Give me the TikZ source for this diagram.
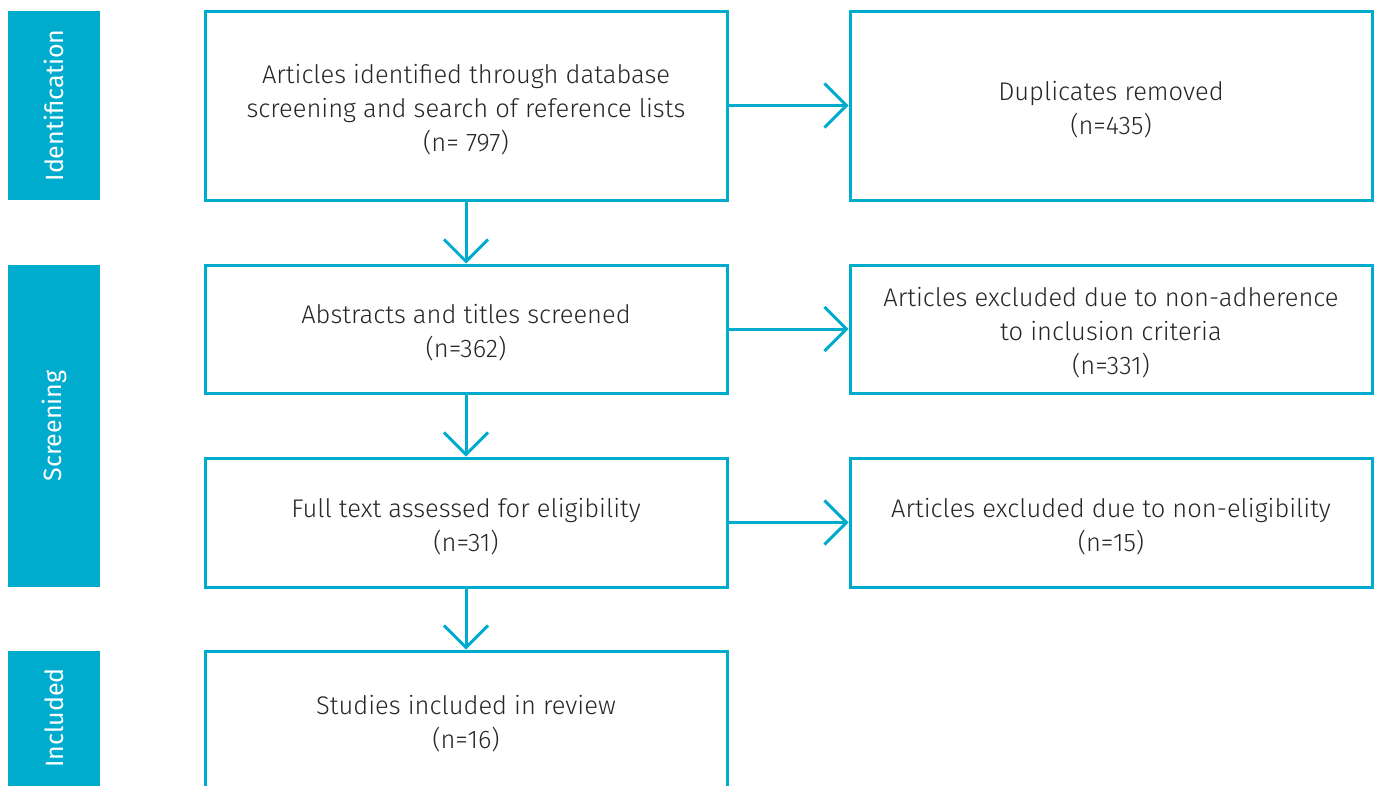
\documentclass[tikz,border=0pt]{standalone}
\usepackage{fontspec}
\setmainfont{Fira Sans}[UprightFont=* Light]
\newfontfamily\bandfont{Fira Sans}
\usetikzlibrary{arrows.meta}
\definecolor{prcyan}{RGB}{0,172,206}
\tikzset{
  box/.style={draw=prcyan, line width=3pt, minimum width=522pt, inner sep=0pt},
  txt/.style={align=center, inner sep=0pt, font=\fontsize{25.5}{34}\selectfont, text=black!85},
  band/.style={fill=prcyan, draw=none, minimum width=92pt, inner sep=0pt},
  bandtext/.style={text=white, font=\bandfont\fontsize{25}{28}\selectfont, rotate=90},
  flow/.style={draw=prcyan, line width=3pt, -{Straight Barb[length=22pt,width=44pt,line width=3pt]}}
}
\begin{document}
\begin{tikzpicture}[x=1pt,y=-1pt]
\useasboundingbox (0,0) rectangle (1375,785);
% stage bands
\node[band, minimum height=189pt] (bid) at (54,105.5) {};
\node[bandtext] (tid) at (bid.center) {Identification};
\node[band, minimum height=322pt] (bsc) at (54,426) {};
\node[bandtext] (tsc) at (bsc.center) {Screening};
\node[band, minimum height=150pt] (bin) at (54,726) {};
\node[bandtext] (tin) at (54,718) {Included};
% left boxes
\node[box, minimum height=189pt] (l1) at (466,105.5) {};
\node[txt] (l1t) at ([yshift=-4pt]l1.center) {Articles identified through database\\screening and search of reference lists\\(n= 797)};
\node[box, minimum height=128pt] (l2) at (466,329) {};
\node[txt] (l2t) at ([yshift=-4pt]l2.center) {Abstracts and titles screened\\(n=362)};
\node[box, minimum height=129pt] (l3) at (466,522.5) {};
\node[txt] (l3t) at ([yshift=-4pt]l3.center) {Full text assessed for eligibility\\(n=31)};
\node[box, minimum height=144pt] (l4) at (466,723) {};
\node[txt] (l4t) at ([yshift=-1pt]l4.center) {Studies included in review\\(n=16)};
% right boxes
\node[box, minimum height=189pt] (r1) at (1111,105.5) {};
\node[txt] (r1t) at ([yshift=-4pt]r1.center) {Duplicates removed\\(n=435)};
\node[box, minimum height=128pt] (r2) at (1111,329) {};
\node[txt] (r2t) at ([yshift=-4pt]r2.center) {Articles excluded due to non-adherence\\to inclusion criteria\\(n=331)};
\node[box, minimum height=129pt] (r3) at (1111,522.5) {};
\node[txt] (r3t) at ([yshift=-4pt]r3.center) {Articles excluded due to non-eligibility\\(n=15)};
% arrows
\draw[flow] (l1) -- (r1);
\draw[flow] (l2) -- (r2);
\draw[flow] (l3) -- (r3);
\draw[flow] (l1) -- (l2);
\draw[flow] (l2) -- (l3);
\draw[flow] (l3) -- (l4);
\end{tikzpicture}
\end{document}
